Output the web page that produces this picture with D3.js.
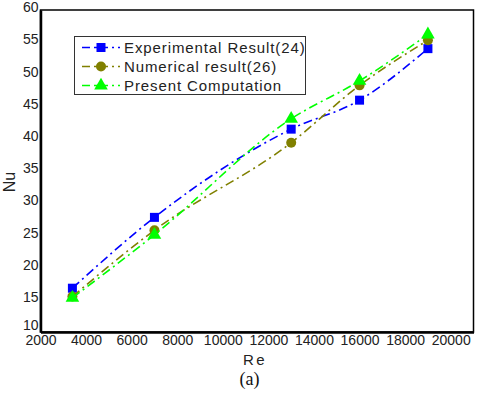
<!DOCTYPE html>
<html>
<head>
<meta charset="utf-8">
<script src="https://cdn.jsdelivr.net/npm/d3@7"></script>
<style>
  body { margin: 0; background: #fff; }
  svg { display: block; font-family: "Liberation Sans", Arial, sans-serif; }
</style>
</head>
<body>
<svg id="chart" width="480" height="396"></svg>
<script>
const reValues = [3400, 7000, 13000, 16000, 19000]
const experimental = [16.8, 27.8, 41.5, 46.0, 54.0]
const numerical = [15.5, 25.8, 39.4, 48.3, 55.3]
const present = [15.3, 25.1, 43.1, 49.0, 56.2]
const xTicks = [2000, 4000, 6000, 8000, 10000, 12000, 14000, 16000, 18000, 20000]
const yTicks = [10, 15, 20, 25, 30, 35, 40, 45, 50, 55, 60]

const series = [
  { name: 'Experimental Result(24)', vals: experimental, color: '#0000ff', marker: 'square' },
  { name: 'Numerical result(26)', vals: numerical, color: '#808000', marker: 'circle' },
  { name: 'Present Computation', vals: present, color: '#00ff00', marker: 'triangle' }
]

const svg = d3.select('#chart')
const plotL = 40.5, plotR = 473.5, plotT = 10, plotB = 332

const x = d3.scaleLinear().domain([2000, 21000]).range([plotL, plotR])
const y = d3.scaleLinear().domain([10, 60]).range([plotB, plotT])

// frame
svg.append('rect')
  .attr('x', plotL).attr('y', plotT)
  .attr('width', plotR - plotL).attr('height', plotB - plotT)
  .style('fill', 'none').style('stroke', '#000').style('stroke-width', 1.5)

// axes (no tick marks, labels only)
const xAxis = svg.append('g')
  .attr('transform', 'translate(0,' + plotB + ')')
  .call(d3.axisBottom(x).tickValues(xTicks).tickSize(0).tickPadding(3).tickFormat(d3.format('d')))
const yAxis = svg.append('g')
  .attr('transform', 'translate(' + plotL + ',0)')
  .call(d3.axisLeft(y).tickValues(yTicks).tickSize(0).tickPadding(2))

;[xAxis, yAxis].forEach(a => {
  a.select('.domain').style('stroke', '#000').style('stroke-width', 2.5)
  a.selectAll('text')
    .style('font-size', '14px')
    .style('fill', '#222')
    .style('font-family', '"Liberation Sans", Arial, sans-serif')
})
// "10" sits just above the x labels, as in the original
yAxis.selectAll('text').attr('dy', d => d === 10 ? '-0.2em' : '0.12em')

function drawMarker(g, type, cx, cy, color) {
  if (type === 'square') {
    g.append('rect').attr('x', cx - 4.5).attr('y', cy - 4.5)
      .attr('width', 9).attr('height', 9).style('fill', color)
  } else if (type === 'circle') {
    g.append('circle').attr('cx', cx).attr('cy', cy).attr('r', 5).style('fill', color)
  } else {
    const s = d3.symbol().type(d3.symbolTriangle).size(80)
    g.append('path').attr('d', s()).attr('transform', 'translate(' + cx + ',' + cy + ')')
      .style('fill', color)
  }
}

const line = d3.line().x(d => x(d[0])).y(d => y(d[1])).curve(d3.curveMonotoneX)

series.forEach(s => {
  const pts = reValues.map((r, i) => [r, s.vals[i]])
  const g = svg.append('g')
  g.append('path')
    .datum(pts)
    .attr('d', line)
    .style('fill', 'none')
    .style('stroke', s.color)
    .style('stroke-width', 1.6)
    .style('stroke-dasharray', '9,4,2,4')
  pts.forEach(p => drawMarker(g, s.marker, x(p[0]), y(p[1]), s.color))
})

// legend
const legend = svg.append('g')
legend.append('rect')
  .attr('x', 74.5).attr('y', 36.5).attr('width', 231).attr('height', 58)
  .style('fill', '#fff').style('stroke', '#333').style('stroke-width', 1)

series.forEach((s, i) => {
  const ly = 47.5 + i * 19
  const g = legend.append('g')
  g.append('line')
    .attr('x1', 82).attr('x2', 120).attr('y1', ly).attr('y2', ly)
    .style('stroke', s.color).style('stroke-width', 1.6)
    .style('stroke-dasharray', '8,4,14,4,2,4')
  drawMarker(g, s.marker, 101, ly, s.color)
  g.append('text')
    .attr('x', 124).attr('y', ly + 5.5)
    .style('font-size', '15px').style('fill', '#222').style('letter-spacing', '0.9px')
    .text(s.name)
})

// axis titles
svg.append('text')
  .attr('transform', 'translate(15,182) rotate(-90)')
  .attr('text-anchor', 'middle')
  .style('font-size', '16px').style('fill', '#222')
  .text('Nu')

svg.append('text')
  .attr('x', 255).attr('y', 365)
  .attr('text-anchor', 'middle')
  .style('font-size', '15px').style('fill', '#222').style('letter-spacing', '2.5px')
  .text('Re')

svg.append('text')
  .attr('x', 249.5).attr('y', 385)
  .attr('text-anchor', 'middle')
  .style('font-size', '18px').style('fill', '#111')
  .style('font-family', '"Liberation Serif", "Times New Roman", serif')
  .text('(a)')
</script>
</body>
</html>
